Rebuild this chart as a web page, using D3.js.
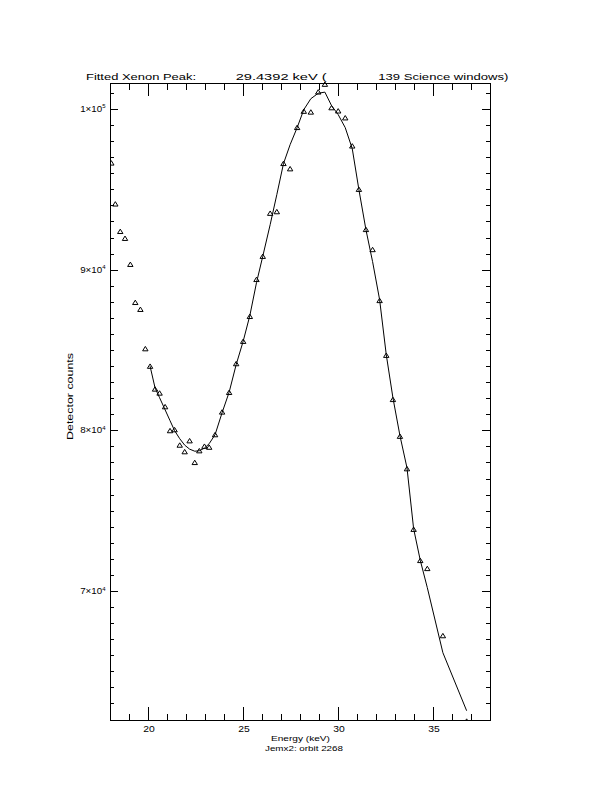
<!DOCTYPE html>
<html><head><meta charset="utf-8">
<script src="https://cdn.jsdelivr.net/npm/d3@7"></script>
<style>
body{margin:0;background:#fff}
svg{display:block}
text{font-family:"Liberation Sans","DejaVu Sans",sans-serif;fill:#000}
</style>
</head><body>
<svg id="chart" width="612" height="792"></svg>
<script>
// ---- data ----
const energy = [18.07,18.28,18.54,18.79,19.07,19.33,19.60,19.86,20.11,20.37,20.61,20.90,21.16,21.40,21.67,21.93,22.19,22.46,22.70,22.97,23.22,23.53,23.90,24.27,24.64,25.01,25.36,25.71,26.04,26.43,26.78,27.13,27.48,27.85,28.20,28.57,28.96,29.31,29.66,30.01,30.38,30.75,31.10,31.47,31.82,32.19,32.54,32.89,33.26,33.63,33.98,34.33,34.70,35.52,36.77];
const counts = [96640,94090,92380,91950,90330,87960,87530,85080,83990,82570,82320,81470,79980,80040,79080,78670,79350,78000,78730,79010,78950,79730,81140,82360,84150,85540,87090,89390,90830,93510,93610,96610,96280,98850,99860,99810,101060,101540,100080,99880,99450,97700,95000,92500,91250,88080,84670,81920,79630,77610,73840,71900,71400,67220,61900];
const fitEnergy = [20.11,20.37,20.61,20.90,21.16,21.40,21.67,21.93,22.19,22.46,22.70,22.97,23.22,23.53,23.90,24.27,24.64,25.01,25.36,25.71,26.04,26.43,26.78,27.13,27.48,27.85,28.20,28.57,28.96,29.31,29.66,30.01,30.38,30.75,31.10,31.47,31.82,32.19,32.54,32.89,33.26,33.63,33.98,34.33,34.70,35.52,36.77];
const fitCounts = [83990,82650,82030,81280,80600,79980,79480,79080,78830,78700,78730,78890,79170,79730,81100,82370,84090,85550,87140,89190,90830,92800,94670,96600,97780,98840,99960,100640,100980,101050,100210,99650,98840,97530,94980,92490,90500,88130,84710,82030,79670,77670,73880,71910,70210,66160,62550];
const xDomain = [18, 38];
const yDomain = [61972, 101618];
const xMajorTicks = [20, 25, 30, 35];
const xTickLabels = ["20", "25", "30", "35"];
const yMajorTicks = [70000, 80000, 90000, 100000];
const yTickMantissa = ["7", "8", "9", "1"];
const yTickExponent = ["4", "4", "4", "5"];
const titleParts = ["Fitted Xenon Peak:", "29.4392 keV (", "139 Science windows)"];
const xTitle = "Energy (keV)";
const subTitle = "Jemx2: orbit 2268";
const yTitle = "Detector counts";

// ---- layout ----
const L = 110, R = 490, T = 83, B = 720;
const svg = d3.select("#chart");
const x = d3.scaleLinear().domain(xDomain).range([L, R]);
const y = d3.scaleLinear().domain(yDomain).range([B, T]);

const xMinor = d3.range(xDomain[0], xDomain[1] + 1, 1).filter(v => !xMajorTicks.includes(v));
const yMinor = d3.range(62000, 102000, 1000).filter(v => !yMajorTicks.includes(v));

function tickAxis(axisFn, scale, vals, size, transform) {
  const g = svg.append("g").attr("transform", transform)
    .call(axisFn(scale).tickValues(vals).tickSize(size).tickSizeOuter(0).tickFormat(""));
  g.select(".domain").remove();
  g.selectAll("line").attr("stroke", "#000").attr("shape-rendering", "crispEdges");
  return g;
}
tickAxis(d3.axisTop, x, xMinor, 6.5, `translate(0,${B})`);
tickAxis(d3.axisTop, x, xMajorTicks, 13, `translate(0,${B})`);
tickAxis(d3.axisBottom, x, xMinor, 6.5, `translate(0,${T})`);
tickAxis(d3.axisBottom, x, xMajorTicks, 13, `translate(0,${T})`);
tickAxis(d3.axisRight, y, yMinor, 4, `translate(${L},0)`);
tickAxis(d3.axisRight, y, yMajorTicks, 8, `translate(${L},0)`);
tickAxis(d3.axisLeft, y, yMinor, 4, `translate(${R},0)`);
tickAxis(d3.axisLeft, y, yMajorTicks, 8, `translate(${R},0)`);

svg.append("rect").attr("x", L + 0.5).attr("y", T + 0.5).attr("width", R - L).attr("height", B - T)
  .attr("fill", "none").attr("stroke", "#000").attr("shape-rendering", "crispEdges");

// x tick labels
svg.append("g").selectAll("text").data(xMajorTicks).join("text")
  .attr("x", d => x(d) + 1).attr("y", 732)
  .attr("text-anchor", "middle").attr("font-size", 9)
  .attr("textLength", 11.5).attr("lengthAdjust", "spacingAndGlyphs")
  .text((d, i) => xTickLabels[i]);

// y tick labels
const yl = svg.append("g").selectAll("text").data(yMajorTicks).join("text")
  .attr("x", 105.5).attr("y", d => y(d) + 3)
  .attr("text-anchor", "end").attr("font-size", 8.5);
yl.append("tspan").attr("textLength", 22).attr("lengthAdjust", "spacingAndGlyphs")
  .text((d, i) => yTickMantissa[i] + "\u00d710");
yl.append("tspan").attr("dy", -3.5).attr("font-size", 6).text((d, i) => yTickExponent[i]);

// title
const titleX = [86, 235.7, 378.3];
const titleLen = [110, 91, 130];
svg.append("g").selectAll("text").data(titleParts).join("text")
  .attr("x", (d, i) => titleX[i]).attr("y", 79.5)
  .attr("font-size", 9.5)
  .attr("textLength", (d, i) => titleLen[i]).attr("lengthAdjust", "spacingAndGlyphs")
  .text(d => d);

// axis titles
svg.append("text").attr("x", 300.5).attr("y", 741).attr("text-anchor", "middle")
  .attr("font-size", 7.5).attr("textLength", 59).attr("lengthAdjust", "spacingAndGlyphs").text(xTitle);
svg.append("text").attr("x", 304).attr("y", 750.5).attr("text-anchor", "middle")
  .attr("font-size", 7.5).attr("textLength", 78).attr("lengthAdjust", "spacingAndGlyphs").text(subTitle);
svg.append("text").attr("transform", "translate(72.5,396.5) rotate(-90)").attr("text-anchor", "middle")
  .attr("font-size", 8.5).attr("textLength", 87).attr("lengthAdjust", "spacingAndGlyphs").text(yTitle);

svg.append("clipPath").attr("id", "plotclip").append("rect")
  .attr("x", L).attr("y", T - 5).attr("width", R - L).attr("height", B - T + 5);

// fit line
const line = d3.line().x(d => x(d[0])).y(d => y(d[1]));
svg.append("path").datum(fitEnergy.map((e, i) => [e, fitCounts[i]]))
  .attr("d", line).attr("fill", "none").attr("stroke", "#000").attr("stroke-width", 1);

// data triangles
svg.append("g").attr("clip-path", "url(#plotclip)")
  .selectAll("path").data(energy).join("path")
  .attr("transform", (d, i) => `translate(${x(d)},${y(counts[i])})`)
  .attr("d", "M-2.7,2.1L0,-2.3L2.7,2.1Z")
  .attr("fill", "none").attr("stroke", "#000").attr("stroke-width", 1);
</script>
</body></html>
